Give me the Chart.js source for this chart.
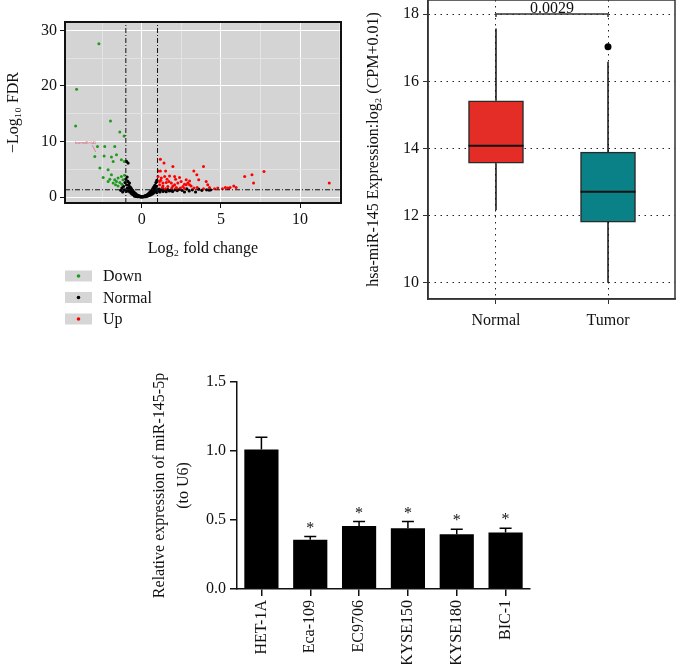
<!DOCTYPE html>
<html>
<head>
<meta charset="utf-8">
<script src="https://cdn.jsdelivr.net/npm/chart.js@4.4.1/dist/chart.umd.min.js"></script>
<style>
  html, body { margin: 0; padding: 0; background: #fff; }
  #page { position: relative; width: 676px; height: 664px; overflow: hidden; }
  .panel { position: absolute; }
</style>
</head>
<body>
<div id="page">
  <canvas id="volcano" class="panel" width="345" height="340" style="left:0;top:0"></canvas>
  <canvas id="box" class="panel" width="339" height="344" style="left:340px;top:-4px"></canvas>
  <canvas id="bars" class="panel" width="420" height="314" style="left:130px;top:350px"></canvas>
</div>
<script>
// ---- volcano plot: [log2 fold change, -log10 FDR]
const downPoints = [
  [-2.70, 27.6], [-4.11, 19.4], [-4.17, 12.8], [-1.97, 13.7], [-1.38, 11.7], [-1.11, 11.0],
  [-2.33, 9.1], [-2.79, 9.1], [-1.70, 9.1], [-2.96, 7.3], [-2.37, 7.4], [-1.91, 7.2],
  [-1.59, 7.6], [-1.28, 6.7], [-1.80, 6.4], [-2.64, 5.2], [-2.12, 4.9], [-2.43, 3.5],
  [-2.01, 3.2], [-1.70, 3.1], [-1.49, 3.4], [-1.28, 3.7], [-1.18, 3.1], [-1.80, 2.5],
  [-1.59, 2.8], [-1.38, 2.6], [-1.91, 4.0], [-2.12, 2.8], [-1.49, 2.0], [-1.10, 6.4],
  [-1.65, 2.2], [-1.25, 2.3], [-1.08, 3.9]
];
const normalPoints = [
  [-1.32, 1.2], [-1.25, 1.6], [-1.20, 0.9], [-1.15, 1.9], [-1.10, 1.3], [-1.05, 2.6], [-1.00, 3.2],
  [-0.98, 1.0], [-0.95, 2.2], [-0.92, 3.6], [-0.90, 1.6], [-0.87, 2.8], [-0.85, 1.1], [-0.82, 2.1],
  [-0.80, 1.5], [-0.77, 2.5], [-0.75, 0.9], [-0.72, 1.8], [-0.70, 1.2], [-0.67, 0.7], [-0.65, 1.5],
  [-0.62, 1.0], [-0.60, 0.5], [-0.57, 1.2], [-0.55, 0.8], [-0.52, 0.4], [-0.50, 0.9], [-0.47, 0.6],
  [-0.45, 0.3], [-0.42, 0.7], [-0.40, 0.45], [-0.37, 0.25], [-0.35, 0.5], [-0.32, 0.3], [-0.30, 0.15],
  [-0.27, 0.35], [-0.25, 0.2], [-0.22, 0.1], [-0.20, 0.25], [-0.17, 0.12], [-0.15, 0.05], [-0.12, 0.15],
  [-0.10, 0.08], [-0.07, 0.03], [-0.05, 0.1], [-0.02, 0.02], [0.00, 0.05],
  [0.03, 0.02], [0.06, 0.08], [0.10, 0.04], [0.13, 0.12], [0.16, 0.06], [0.20, 0.15], [0.23, 0.25],
  [0.26, 0.1], [0.30, 0.3], [0.33, 0.2], [0.36, 0.45], [0.40, 0.35], [0.43, 0.6], [0.46, 0.4],
  [0.50, 0.8], [0.53, 0.55], [0.56, 1.0], [0.60, 0.7], [0.63, 1.2], [0.66, 0.9], [0.70, 1.5],
  [0.73, 1.1], [0.76, 1.8], [0.80, 1.3], [0.83, 2.1], [0.86, 1.5], [0.90, 2.6], [0.93, 1.9],
  [0.96, 3.0], [0.98, 1.2], [0.95, 0.8], [0.85, 0.95],
  [1.05, 1.1], [1.15, 0.9], [1.25, 1.3], [1.35, 1.0], [1.45, 1.2], [1.55, 0.95], [1.65, 1.35],
  [1.75, 1.1], [1.85, 1.25], [1.95, 1.0], [2.10, 1.3], [2.25, 1.15], [2.40, 1.4], [2.55, 1.2],
  [2.70, 0.9], [2.85, 1.45], [3.00, 1.1], [3.20, 1.3], [3.40, 0.9], [3.60, 1.4], [3.80, 1.2],
  [4.10, 1.3], [4.25, 1.25], [4.35, 1.3], [-0.96, 6.4], [-0.86, 6.1],
  [-0.45, 0.15], [-0.35, 0.1], [-0.25, 0.05], [0.25, 0.05], [0.35, 0.15], [0.45, 0.25],
  [0.55, 0.35], [0.65, 0.5], [0.75, 0.7], [0.9, 1.0], [1.1, 1.4], [1.3, 1.5]
];
const upPoints = [
  [1.18, 6.8], [1.41, 6.1], [1.97, 5.5], [1.18, 4.7], [1.51, 4.7], [3.90, 5.5], [3.29, 4.7],
  [3.48, 4.0], [3.60, 3.1], [4.07, 2.8], [4.17, 2.2], [4.28, 1.7], [6.50, 3.7], [6.96, 4.0],
  [7.06, 2.5], [7.72, 4.6], [11.84, 2.5], [5.28, 1.7], [5.43, 1.6], [5.58, 1.7], [5.81, 2.0],
  [5.96, 1.7], [4.80, 1.6], [1.03, 3.7], [1.24, 3.4], [1.45, 3.7], [1.76, 3.8], [2.08, 3.7],
  [2.39, 3.5], [1.13, 2.8], [1.34, 2.5], [1.55, 2.6], [1.72, 2.8], [1.87, 2.5], [2.08, 2.2],
  [2.28, 2.5], [2.49, 2.8], [2.70, 2.3], [2.91, 2.5], [3.02, 2.2], [3.12, 2.0], [1.13, 2.2],
  [1.34, 2.0], [1.65, 1.9], [1.97, 2.0], [2.18, 1.7], [2.60, 1.9], [2.81, 2.2], [2.14, 3.2],
  [2.81, 3.1], [3.02, 2.9], [1.05, 4.7], [1.20, 3.0], [1.60, 3.2], [1.30, 1.7], [1.50, 1.5],
  [1.90, 1.6], [2.20, 1.5], [2.45, 1.6], [2.70, 1.55], [3.30, 1.6], [3.50, 1.7], [3.90, 1.5],
  [4.60, 1.5], [5.10, 1.5], [5.50, 1.55]
];
const foldCutoffs = [-1, 1];
const fdrCutoff = 1.3;
const geneLabel = 'hsa-miR-145';
const geneLabelAt = [-4.2, 9.7];
const geneArrowTo = [-2.9, 8.1];

// ---- box plot
const boxGroups = ['Normal', 'Tumor'];
const boxMin = [12.16, 10.0];
const boxQ1 = [13.56, 11.81];
const boxMedian = [14.08, 12.71];
const boxQ3 = [15.42, 13.89];
const boxMax = [17.57, 16.58];
const boxOutliers = [[1, 17.03]];
const pValueText = '0.0029';
const bracketY = 18;

// ---- bar chart
const cellLines = ['HET-1A', 'Eca-109', 'EC9706', 'KYSE150', 'KYSE180', 'BIC-1'];
const relExpr = [1.01, 0.356, 0.457, 0.44, 0.397, 0.409];
const relExprSd = [0.09, 0.024, 0.032, 0.049, 0.036, 0.031];
const sigMarks = ['', '*', '*', '*', '*', '*'];

const serif = '"Liberation Serif", "Times New Roman", serif';
Chart.defaults.font.family = serif;
Chart.defaults.font.size = 16;
Chart.defaults.color = '#111';
Chart.defaults.animation = false;

const toXY = (arr) => arr.map(([x, y]) => ({ x, y }));

// ---------------- volcano ----------------
const volMin = { x: -4.84, y: -1.08 };
const volMax = { x: 12.58, y: 31.5 };

const volcanoPanel = {
  id: 'volcanoPanel',
  beforeDraw(chart) {
    const { ctx, chartArea: a } = chart;
    ctx.save();
    ctx.fillStyle = '#d4d4d4';
    ctx.fillRect(a.left, a.top, a.right - a.left, a.bottom - a.top);
    ctx.restore();
  },
  afterDraw(chart) {
    const { ctx, chartArea: a, scales } = chart;
    ctx.save();
    ctx.strokeStyle = '#111';
    ctx.lineWidth = 2;
    ctx.strokeRect(a.left, a.top, a.right - a.left, a.bottom - a.top);

    // gene label with arrow
    const lx = scales.x.getPixelForValue(geneLabelAt[0]);
    const ly = scales.y.getPixelForValue(geneLabelAt[1]);
    const tx = scales.x.getPixelForValue(geneArrowTo[0]);
    const ty = scales.y.getPixelForValue(geneArrowTo[1]);
    ctx.fillStyle = '#d9536a';
    ctx.strokeStyle = '#d9536a';
    ctx.lineWidth = 0.6;
    ctx.font = '4px ' + serif;
    ctx.textBaseline = 'middle';
    ctx.fillText(geneLabel, lx, ly);
    ctx.beginPath();
    ctx.moveTo(lx + 17, ly + 2);
    ctx.lineTo(tx, ty);
    ctx.stroke();

    // legend
    chart.data.datasets.slice(0, 3).forEach((ds, i) => {
      const y = 276 + i * 21.5;
      ctx.fillStyle = '#d6d6d6';
      ctx.fillRect(65, y - 5.5, 27, 11);
      ctx.fillStyle = ds.backgroundColor;
      ctx.beginPath();
      ctx.arc(78.5, y, 1.8, 0, Math.PI * 2);
      ctx.fill();
      ctx.fillStyle = '#111';
      ctx.font = '16px ' + serif;
      ctx.textBaseline = 'middle';
      ctx.fillText(ds.label, 103, y + 1);
    });
    ctx.restore();
  }
};

const cutLine = (pts) => ({
  type: 'line',
  data: pts,
  borderColor: '#111',
  borderWidth: 1,
  borderDash: [5, 2, 1, 2],
  pointRadius: 0,
  order: 0
});

new Chart(document.getElementById('volcano'), {
  type: 'scatter',
  data: {
    datasets: [
      { label: 'Down', data: toXY(downPoints), backgroundColor: '#1f9a1f', pointRadius: 1.5, borderWidth: 0, order: 1 },
      { label: 'Normal', data: toXY(normalPoints), backgroundColor: '#000000', pointRadius: 1.6, borderWidth: 0, order: 2 },
      { label: 'Up', data: toXY(upPoints), backgroundColor: '#ff0000', pointRadius: 1.5, borderWidth: 0, order: 1 },
      cutLine([{ x: foldCutoffs[0], y: volMin.y }, { x: foldCutoffs[0], y: volMax.y }]),
      cutLine([{ x: foldCutoffs[1], y: volMin.y }, { x: foldCutoffs[1], y: volMax.y }]),
      cutLine([{ x: volMin.x, y: fdrCutoff }, { x: volMax.x, y: fdrCutoff }])
    ]
  },
  options: {
    responsive: false,
    layout: { padding: { top: 22, right: 3, bottom: 82, left: 0 } },
    plugins: { legend: { display: false }, tooltip: { enabled: false } },
    scales: {
      x: {
        type: 'linear', min: volMin.x, max: volMax.x,
        ticks: { stepSize: 2.5, includeBounds: false, autoSkip: false, maxRotation: 0, padding: 2,
          callback: v => (v % 5 === 0 ? v : '') },
        grid: {
          color: c => (c.tick && c.tick.value % 5 === 0 ? '#ffffff' : '#e3e3e3'),
          tickColor: c => (c.tick && c.tick.value % 5 === 0 ? '#111' : 'rgba(0,0,0,0)'),
          tickLength: 5
        },
        border: { display: false },
        title: { display: true, text: 'Log₂ fold change', padding: { top: 4, bottom: 0 } },
        afterFit: s => { s.height = 55; }
      },
      y: {
        type: 'linear', min: volMin.y, max: volMax.y,
        ticks: { stepSize: 5, includeBounds: false, autoSkip: false, padding: 3,
          callback: v => (v % 10 === 0 ? v : '') },
        grid: {
          color: c => (c.tick && c.tick.value % 10 === 0 ? '#ffffff' : '#e3e3e3'),
          tickColor: c => (c.tick && c.tick.value % 10 === 0 ? '#111' : 'rgba(0,0,0,0)'),
          tickLength: 5
        },
        border: { display: false },
        title: { display: true, text: '−Log₁₀ FDR', padding: { top: 4, bottom: 4 } },
        afterFit: s => { s.width = 65; }
      }
    }
  },
  plugins: [volcanoPanel]
});

// ---------------- box plot ----------------
const boxColors = ['#e52d27', '#0a8087'];

const boxExtras = {
  id: 'boxExtras',
  afterDatasetsDraw(chart) {
    const { ctx, scales } = chart;
    const meta = chart.getDatasetMeta(0);
    ctx.save();
    ctx.strokeStyle = '#111';
    boxGroups.forEach((g, i) => {
      const el = meta.data[i];
      const x = el.x;
      const half = el.width / 2;
      const yMin = scales.y.getPixelForValue(boxMin[i]);
      const yQ1 = scales.y.getPixelForValue(boxQ1[i]);
      const yQ3 = scales.y.getPixelForValue(boxQ3[i]);
      const yMax = scales.y.getPixelForValue(boxMax[i]);
      const yMed = scales.y.getPixelForValue(boxMedian[i]);
      ctx.lineWidth = 1.5;
      ctx.beginPath();
      ctx.moveTo(x, yQ3); ctx.lineTo(x, yMax);
      ctx.moveTo(x, yQ1); ctx.lineTo(x, yMin);
      ctx.stroke();
      ctx.lineWidth = 2;
      ctx.beginPath();
      ctx.moveTo(x - half, yMed); ctx.lineTo(x + half, yMed);
      ctx.stroke();
    });
    // significance bracket
    const x0 = scales.x.getPixelForValue(0);
    const x1 = scales.x.getPixelForValue(1);
    const yb = scales.y.getPixelForValue(bracketY);
    ctx.strokeStyle = '#333';
    ctx.lineWidth = 1.5;
    ctx.beginPath();
    ctx.moveTo(x0, yb + 3); ctx.lineTo(x0, yb); ctx.lineTo(x1, yb); ctx.lineTo(x1, yb + 3);
    ctx.stroke();
    ctx.fillStyle = '#111';
    ctx.font = '16px ' + serif;
    ctx.textAlign = 'center';
    ctx.textBaseline = 'alphabetic';
    ctx.fillText(pValueText, (x0 + x1) / 2, yb - 1);
    ctx.restore();
  },
  afterDraw(chart) {
    const { ctx, chartArea: a } = chart;
    ctx.save();
    ctx.strokeStyle = '#333';
    ctx.lineWidth = 1.5;
    ctx.strokeRect(a.left, a.top, a.right - a.left, a.bottom - a.top);
    ctx.restore();
  }
};

new Chart(document.getElementById('box'), {
  type: 'bar',
  data: {
    datasets: [
      {
        type: 'bar',
        data: boxGroups.map((g, i) => ({ x: i, y: [boxQ1[i], boxQ3[i]] })),
        backgroundColor: boxColors,
        borderColor: '#2a2a2a',
        borderWidth: 1.5,
        borderSkipped: false,
        barThickness: 55,
        order: 2
      },
      {
        type: 'scatter',
        data: toXY(boxOutliers),
        backgroundColor: '#000',
        pointRadius: 3.5,
        borderWidth: 0,
        order: 0
      }
    ]
  },
  options: {
    responsive: false,
    layout: { padding: 0 },
    plugins: { legend: { display: false }, tooltip: { enabled: false } },
    scales: {
      x: {
        type: 'linear', min: -0.607, max: 1.598, offset: false,
        afterBuildTicks: s => { s.ticks = boxGroups.map((g, i) => ({ value: i })); },
        ticks: { autoSkip: false, maxRotation: 0, padding: 7, callback: v => boxGroups[v] ?? '' },
        grid: { offset: false, color: '#222', lineWidth: 1, tickColor: '#333', tickLength: 5 },
        border: { display: true, color: '#333', width: 1.5, dash: [1.5, 4.5] },
        afterFit: s => { s.height = 41; s.paddingLeft = 0; s.paddingRight = 0; }
      },
      y: {
        type: 'linear', min: 9.52, max: 18.42,
        ticks: { stepSize: 2, includeBounds: false, autoSkip: false, padding: 4 },
        grid: { color: '#222', lineWidth: 1, tickColor: '#333', tickLength: 5 },
        border: { display: true, color: '#333', width: 1.5, dash: [1.5, 4.5] },
        title: { display: true, text: 'hsa-miR-145 Expression:log₂ (CPM+0.01)', padding: { top: 24, bottom: 4 } },
        afterFit: s => { s.width = 88; s.paddingTop = 0; s.paddingBottom = 0; }
      }
    }
  },
  plugins: [boxExtras]
});

// ---------------- bar chart ----------------
const errorBars = {
  id: 'errorBars',
  afterDatasetsDraw(chart) {
    const { ctx, scales } = chart;
    const meta = chart.getDatasetMeta(0);
    ctx.save();
    ctx.strokeStyle = '#000';
    ctx.lineWidth = 1.5;
    ctx.fillStyle = '#111';
    ctx.font = '16px ' + serif;
    ctx.textAlign = 'center';
    ctx.textBaseline = 'alphabetic';
    relExpr.forEach((v, i) => {
      const el = meta.data[i];
      const yTop = scales.y.getPixelForValue(v + relExprSd[i]);
      ctx.beginPath();
      ctx.moveTo(el.x, el.y);
      ctx.lineTo(el.x, yTop);
      ctx.moveTo(el.x - 6, yTop);
      ctx.lineTo(el.x + 6, yTop);
      ctx.stroke();
      if (sigMarks[i]) ctx.fillText(sigMarks[i], el.x, yTop - 4);
    });
    ctx.restore();
  }
};

new Chart(document.getElementById('bars'), {
  type: 'bar',
  data: {
    labels: cellLines,
    datasets: [{
      data: relExpr,
      backgroundColor: '#000',
      barPercentage: 0.7,
      categoryPercentage: 1.0
    }]
  },
  options: {
    responsive: false,
    layout: { padding: { top: 32, right: 20, left: 0, bottom: 0 } },
    plugins: { legend: { display: false }, tooltip: { enabled: false } },
    scales: {
      x: {
        ticks: { autoSkip: false, minRotation: 90, maxRotation: 90, padding: 4 },
        grid: { display: true, drawOnChartArea: false, offset: false, color: '#111', lineWidth: 1.5, tickLength: 7 },
        border: { display: true, color: '#111', width: 1.5 },
        afterFit: s => { s.height = 75; }
      },
      y: {
        min: 0, max: 1.5,
        ticks: { stepSize: 0.5, padding: 4, callback: v => v.toFixed(1) },
        grid: { display: true, drawOnChartArea: false, color: '#111', lineWidth: 1.5, tickLength: 7 },
        border: { display: true, color: '#111', width: 1.5 },
        title: { display: true, text: ['Relative expression of miR-145-5p', '(to U6)'], padding: { top: 18, bottom: 4 }, font: { lineHeight: 1.5 } },
        afterFit: s => { s.width = 107; }
      }
    }
  },
  plugins: [errorBars]
});
</script>
</body>
</html>
